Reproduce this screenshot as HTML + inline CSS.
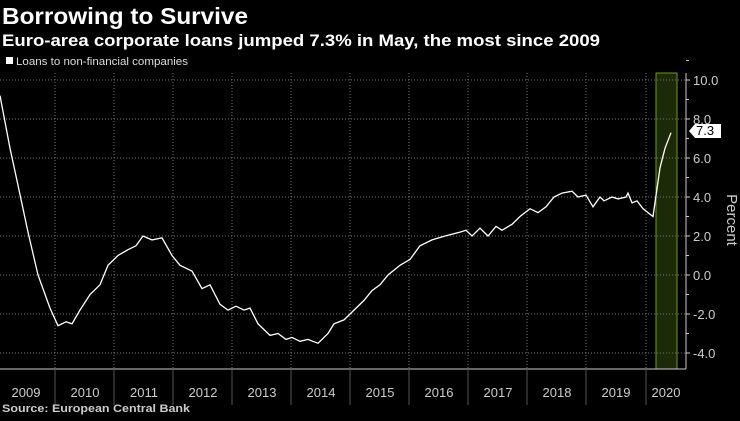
<!DOCTYPE html>
<html><head><meta charset="utf-8"><style>
body{margin:0;background:#000;width:740px;height:416px;overflow:hidden;font-family:"Liberation Sans",sans-serif;color:#fff}
</style></head><body>
<svg id="s" width="740" height="416" xmlns="http://www.w3.org/2000/svg" font-family="Liberation Sans, sans-serif">
<text x="2" y="24" font-size="23" font-weight="bold" fill="#fff" textLength="246" lengthAdjust="spacingAndGlyphs">Borrowing to Survive</text>
<text x="2" y="46" font-size="17" font-weight="bold" fill="#fff" textLength="598" lengthAdjust="spacingAndGlyphs">Euro-area corporate loans jumped 7.3% in May, the most since 2009</text>
<rect x="6" y="57" width="7" height="7" fill="#fff"/>
<text x="16" y="65" font-size="11" fill="#ddd" textLength="172" lengthAdjust="spacingAndGlyphs">Loans to non-financial companies</text>
<rect x="656" y="73" width="21" height="296" fill="#1c2a08" stroke="#6a9a2a" stroke-width="1"/>
<g id="grid" stroke="#777" stroke-dasharray="1,2" stroke-width="1"></g>
<line x1="686" y1="73" x2="686" y2="369" stroke="#ccc"/>
<line x1="0" y1="369" x2="686" y2="369" stroke="#ccc"/>
<g id="ax" fill="#ccc" font-size="13"></g>
<path id="p" fill="none" stroke="#fff" stroke-width="1.3"/>
<polygon points="689,131 695,124 721,124 721,138 695,138" fill="#fff"/>
<text x="696" y="135" font-size="13" fill="#000">7.3</text>
<text transform="translate(727,220) rotate(90)" text-anchor="middle" font-size="15" fill="#ccc">Percent</text>
<text x="2" y="412" font-size="11" font-weight="bold" fill="#ccc" textLength="188" lengthAdjust="spacingAndGlyphs">Source: European Central Bank</text>
</svg>
<script>
var NS="http://www.w3.org/2000/svg";
function el(t,a,p,txt){var e=document.createElementNS(NS,t);for(var k in a)e.setAttribute(k,a[k]);if(txt)e.textContent=txt;document.getElementById(p).appendChild(e);}
function Y(v){return 275-v*19.5;}
for(var v=-4;v<=10;v+=2){el('line',{x1:0,x2:686,y1:Y(v),y2:Y(v)},'grid');
el('line',{x1:686,x2:690,y1:Y(v),y2:Y(v),stroke:'#ccc'},'ax');
el('line',{x1:686,x2:689,y1:Y(v+1),y2:Y(v+1),stroke:'#ccc'},'ax');
el('text',{x:693,y:Y(v)+5},'ax',(v<0?'-':'')+Math.abs(v).toFixed(1));}
var yrs=['2009','2010','2011','2012','2013','2014','2015','2016','2017','2018','2019'];
for(var i=0;i<yrs.length;i++){var x0=-4+i*59;
el('text',{x:x0+30,y:397,'text-anchor':'middle'},'ax',yrs[i]);
if(i>0){el('line',{x1:x0,x2:x0,y1:73,y2:369},'grid');el('line',{x1:x0,x2:x0,y1:369,y2:405,stroke:'#555'},'ax');}}
el('line',{x1:646,x2:646,y1:73,y2:369},'grid');el('line',{x1:646,x2:646,y1:369,y2:405,stroke:'#555'},'ax');
el('text',{x:666,y:397,'text-anchor':'middle'},'ax','2020');
var d=[[0,9.2],[10,6.5],[18,4.6],[28,2.2],[38,0],[50,-1.7],[58,-2.6],[66,-2.4],[72,-2.5],[80,-1.8],[90,-1.0],[100,-0.5],[108,0.5],[118,1.0],[128,1.3],[136,1.5],[143,2.0],[152,1.8],[162,1.9],[172,1.0],[180,0.5],[192,0.2],[202,-0.7],[210,-0.5],[220,-1.5],[228,-1.8],[236,-1.6],[244,-1.8],[250,-1.7],[258,-2.5],[270,-3.1],[278,-3.0],[286,-3.3],[292,-3.2],[300,-3.4],[308,-3.3],[318,-3.5],[328,-3.0],[334,-2.5],[344,-2.3],[354,-1.8],[364,-1.3],[372,-0.8],[380,-0.5],[388,0],[400,0.5],[410,0.8],[420,1.5],[432,1.8],[445,2.0],[460,2.2],[466,2.3],[472,2.0],[480,2.4],[488,2.0],[496,2.5],[502,2.3],[512,2.6],[520,3.0],[530,3.4],[538,3.2],[546,3.5],[554,4.0],[562,4.2],[572,4.3],[578,4.0],[586,4.1],[593,3.5],[600,4.0],[604,3.8],[612,4.0],[618,3.9],[626,4.0],[628,4.2],[632,3.7],[637,3.8],[643,3.4],[648,3.2],[653,3.0],[660,5.5],[665,6.5],[671,7.3]];
document.getElementById('p').setAttribute('d',d.map(function(p,i){return (i?'L':'M')+p[0]+','+Y(p[1]).toFixed(1);}).join(''));
</script>
</body></html>
